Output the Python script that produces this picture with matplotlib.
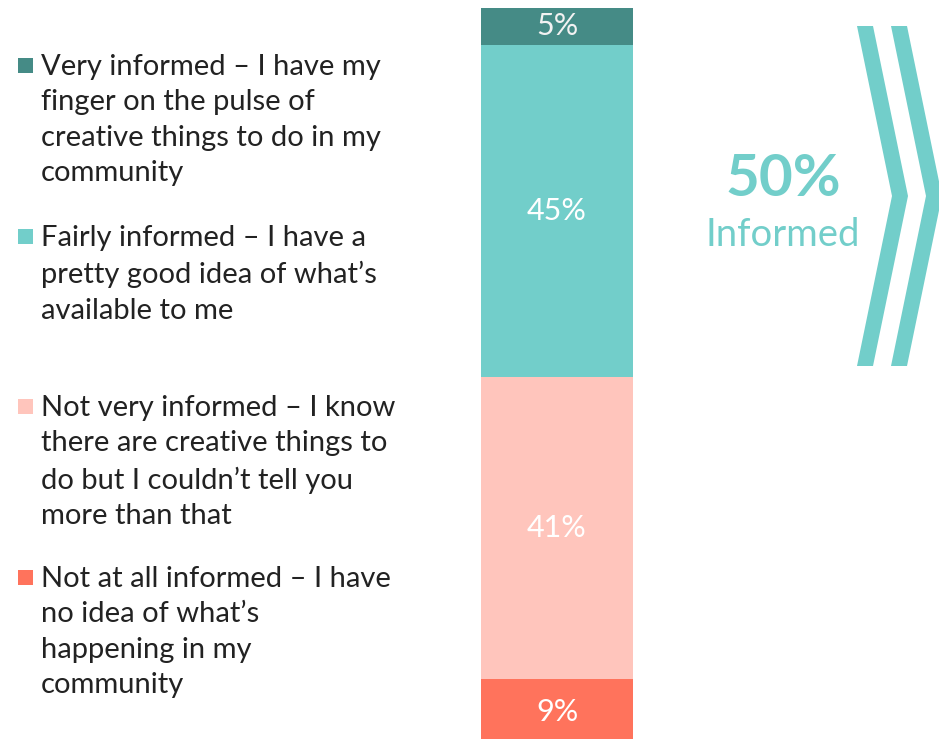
import matplotlib
matplotlib.use("Agg")
import matplotlib.pyplot as plt
from matplotlib.patches import Polygon, Rectangle

plt.rcParams['font.family'] = ['Lato', 'DejaVu Sans']

# data, bottom to top
categories = [
    "Not at all informed – I have\nno idea of what’s\nhappening in my\ncommunity",
    "Not very informed – I know\nthere are creative things to\ndo but I couldn’t tell you\nmore than that",
    "Fairly informed – I have a\npretty good idea of what’s\navailable to me",
    "Very informed – I have my\nfinger on the pulse of\ncreative things to do in my\ncommunity",
]
values = [9, 41, 45, 5]
colors = ["#FF735C", "#FFC5BC", "#72CECA", "#458B86"]
label_colors = ["white", "white", "white", "#F2F2F2"]
informed_total = values[2] + values[3]

W, H = 939, 739
fig = plt.figure(figsize=(W / 100, H / 100), dpi=100)

# bar axes, placed in pixels (bottom runs a little past the edge)
bx0, bx1, btop, bbot = 481, 633, 8, 745
ax = fig.add_axes([bx0 / W, (H - bbot) / H, (bx1 - bx0) / W, (bbot - btop) / H])
bottom = 0
for v, c, lc in zip(values, colors, label_colors):
    ax.bar(0, v, bottom=bottom, width=1, color=c, edgecolor='none')
    ax.text(0, bottom + v / 2, f"{v}%", ha='center', va='center',
            color=lc, fontsize=22)
    bottom += v
ax.set_xlim(-0.5, 0.5)
ax.set_ylim(0, 100)
ax.axis('off')

# overlay axes in pixel coordinates for legend and annotations
ov = fig.add_axes([0, 0, 1, 1])
ov.set_xlim(0, W)
ov.set_ylim(H, 0)
ov.axis('off')

# legend blocks (top of first line y)
legend_tops = [54, 225, 395, 566]
for cat, c, y in zip(categories[::-1], colors[::-1], legend_tops):
    ov.add_patch(Rectangle((18, y + 4), 15, 15, color=c, lw=0))
    ov.text(41, y, cat, ha='left', va='top', fontsize=21,
            color='#222222', linespacing=1.45)

# total informed call-out
teal = "#72CECA"
ov.text(783, 180, f"{informed_total}%", ha='center', va='center',
        fontsize=42, fontweight='bold', color=teal)
ov.text(783, 235, "Informed", ha='center', va='center',
        fontsize=27.5, color=teal)

# chevrons
for dx in (0, 34):
    pts = [(857 + dx, 26), (873 + dx, 26), (908 + dx, 196),
           (873 + dx, 366), (857 + dx, 366), (892 + dx, 196)]
    ov.add_patch(Polygon(pts, closed=True, color=teal, lw=0))

fig.savefig("out.png", dpi=100)
